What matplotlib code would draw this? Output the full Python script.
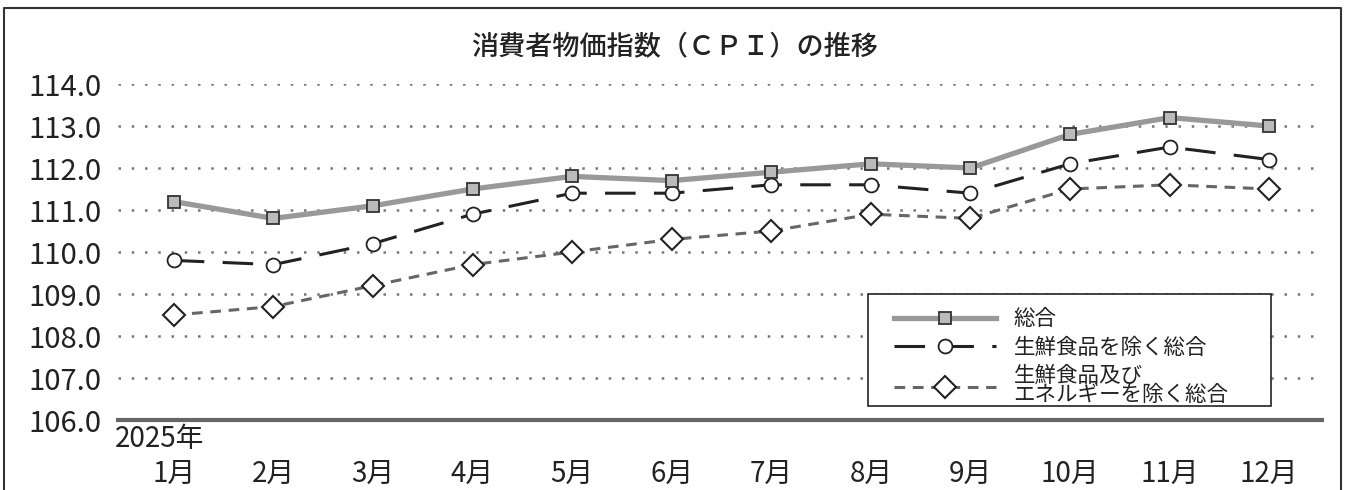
import matplotlib.pyplot as plt
from matplotlib.lines import Line2D
from matplotlib.patches import Rectangle

plt.rcParams['font.family'] = ['Noto Sans CJK JP', 'DejaVu Sans']

# データ
months = ['1月', '2月', '3月', '4月', '5月', '6月', '7月', '8月', '9月', '10月', '11月', '12月']
sogo = [111.2, 110.8, 111.1, 111.5, 111.8, 111.7, 111.9, 112.1, 112.0, 112.8, 113.2, 113.0]
core = [109.8, 109.7, 110.2, 110.9, 111.4, 111.4, 111.6, 111.6, 111.4, 112.1, 112.5, 112.2]
core_core = [108.5, 108.7, 109.2, 109.7, 110.0, 110.3, 110.5, 110.9, 110.8, 111.5, 111.6, 111.5]
labels = ['総合', '生鮮食品を除く総合', '生鮮食品及び\nエネルギーを除く総合']
yticks = [106, 107, 108, 109, 110, 111, 112, 113, 114]

fig = plt.figure(figsize=(13.47, 4.9), dpi=100)
ax = fig.add_axes([118 / 1347, 1 - 420 / 490, 1204 / 1347, 336 / 490])

x = list(range(len(months)))

# 点線の目盛線
for v in yticks[1:]:
    ax.axhline(v, color='#777777', lw=1.8, linestyle=(0, (1, 4.3)), zorder=1)
ax.axhline(106, color='#666666', lw=3, zorder=2, clip_on=False)

ax.plot(x, core_core, color='#666666', lw=2.2, linestyle=(0, (3.5, 2.5)),
        marker='D', markersize=11.5, markerfacecolor='white', markeredgecolor='#222222',
        markeredgewidth=1.5, label=labels[2], zorder=3, clip_on=False)
ax.plot(x, core, color='#222222', lw=2.2, linestyle=(0, (10, 6)),
        marker='o', markersize=10, markerfacecolor='white', markeredgecolor='#222222',
        markeredgewidth=1.3, label=labels[1], zorder=4, clip_on=False)
ax.plot(x, sogo, color='#999999', lw=3.8,
        marker='s', markersize=8.5, markerfacecolor='#bbbbbb', markeredgecolor='#333333',
        markeredgewidth=1.3, label=labels[0], zorder=5, clip_on=False)

ax.set_xlim(-0.56, 11.53)
ax.set_ylim(106, 114)
ax.set_yticks(yticks)
ax.set_yticklabels([f'{v:.1f}' for v in yticks], fontsize=21, color='#222222')
ax.set_xticks(x)
ax.set_xticklabels(months, fontsize=20, color='#222222')
ax.tick_params(axis='y', length=0, pad=12)
ax.tick_params(axis='x', length=0, pad=28)
for s in ax.spines.values():
    s.set_visible(False)

ax.text(-0.59, 105.55, '2025年', fontsize=20, color='#222222', ha='left', va='center')

# 凡例（枠は別に描く）
ax.add_patch(Rectangle((0.623, 0.042), 0.335, 0.333, transform=ax.transAxes,
                       facecolor='white', edgecolor='#222222', lw=1.2, zorder=6))
h, l = ax.get_legend_handles_labels()
leg = ax.legend(h[::-1], l[::-1], loc='upper left', bbox_to_anchor=(0.6445, 0.333),
                fontsize=15.5, handlelength=4.75, handletextpad=0.8,
                frameon=False, borderpad=0, borderaxespad=0, labelspacing=0.3)
leg.set_zorder(7)
for t in leg.get_texts():
    t.set_linespacing(0.85)
    t.set_color('#222222')

fig.text(0.501, 1 - 48 / 490, '消費者物価指数（ＣＰＩ）の推移', fontsize=19.5,
         fontweight='medium', ha='center', va='center', color='#222222')

# 外枠
fig.add_artist(Line2D([4 / 1347, 4 / 1347, 1341 / 1347, 1341 / 1347],
                      [0, 1 - 8 / 490, 1 - 8 / 490, 0],
                      transform=fig.transFigure, color='#333333', lw=1.5))

fig.savefig('out.png', dpi=100)
